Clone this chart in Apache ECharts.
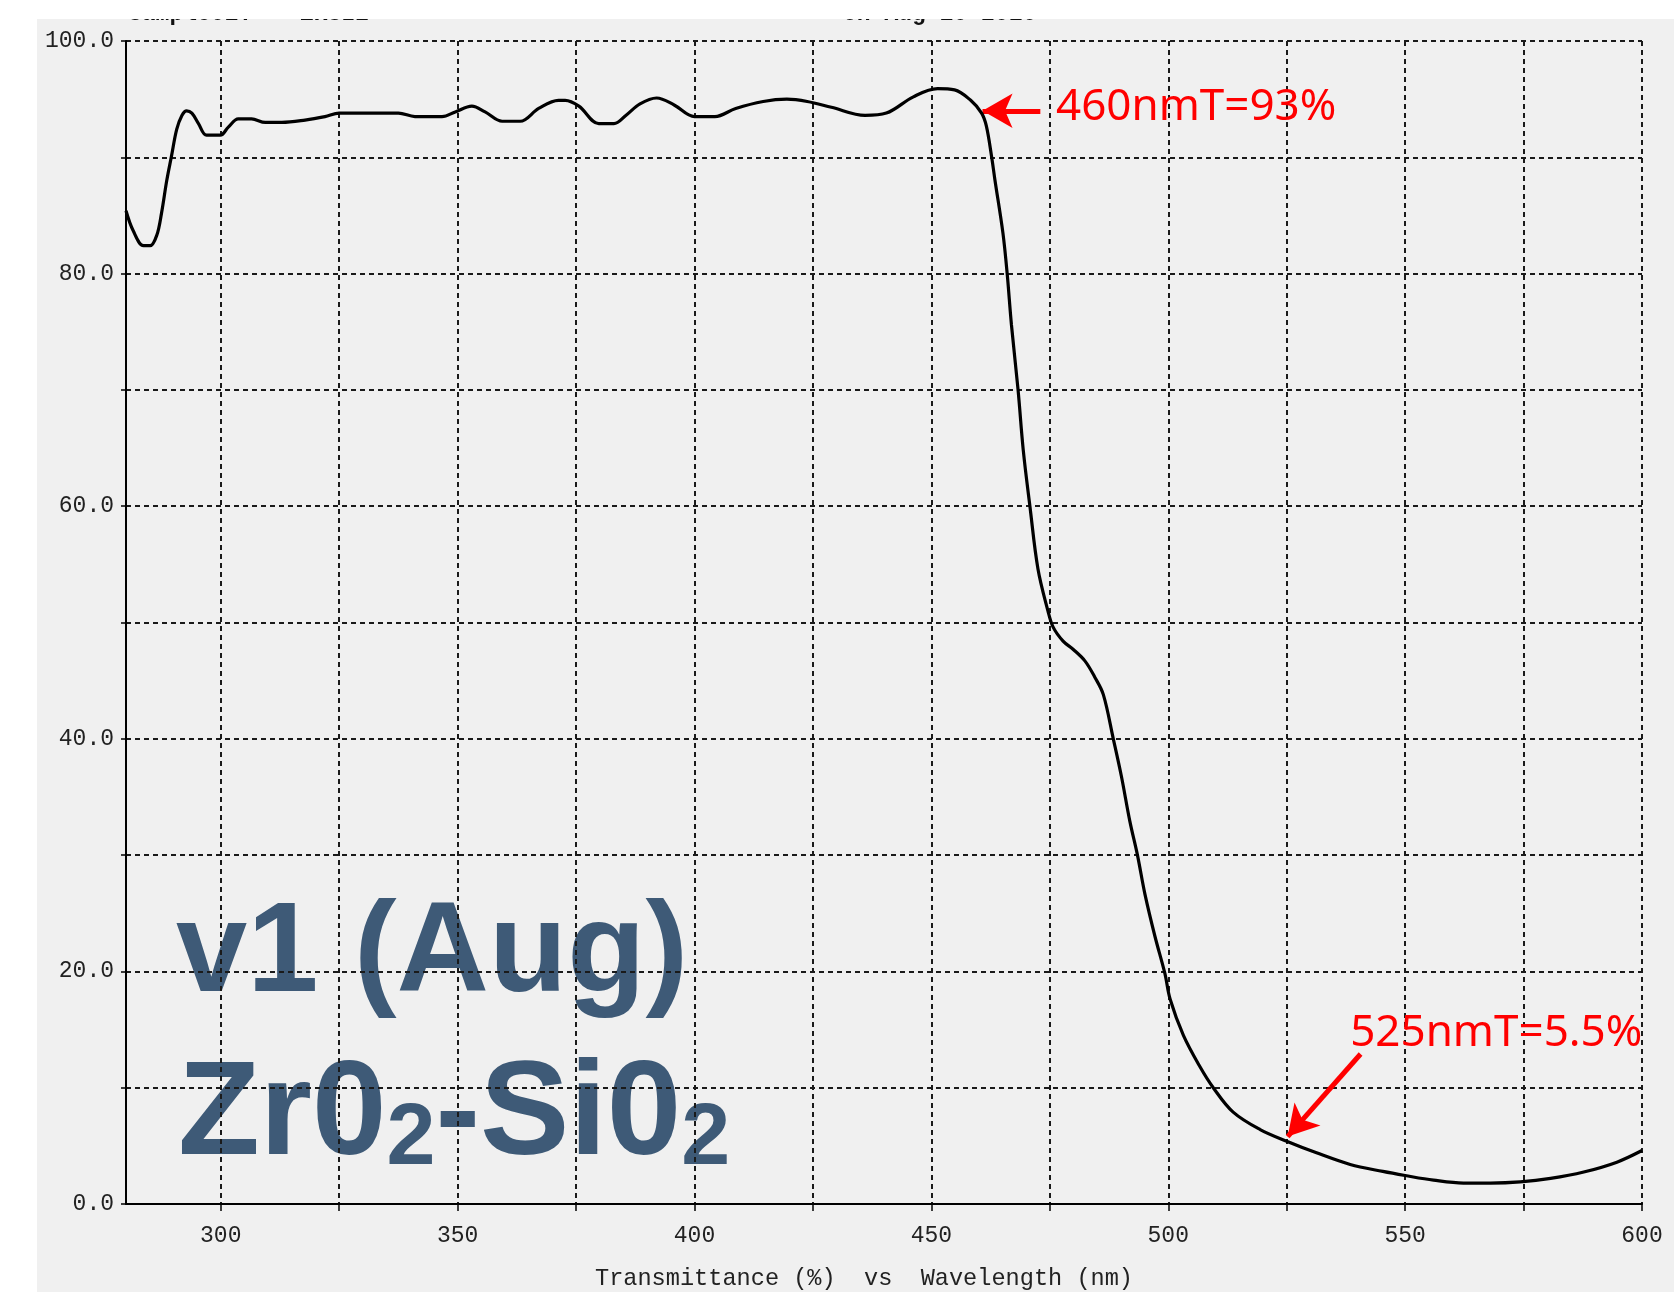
<!DOCTYPE html>
<html>
<head>
<meta charset="utf-8">
<script src="https://cdn.jsdelivr.net/npm/echarts@6/dist/echarts.min.js"></script>
<style>
  html, body { margin: 0; padding: 0; background: #ffffff; }
  #bg { position: absolute; left: 37px; top: 19px; width: 1637px; height: 1273px; background: #f0f0f0; }
  #chart { position: absolute; left: 0; top: 0; width: 1674px; height: 1292px; }
</style>
</head>
<body>
<div id="bg"></div>
<div id="chart"></div>
<script>
// wavelength (nm) / transmittance (%)
const wavelength = [280, 281.5, 283.7, 285.1, 286.5, 287.5, 288.6, 289.6, 290.7, 291.8, 292.8, 293.9, 295.3, 297, 299.9,
  301.6, 303.7, 306.5, 309.4, 312.9, 317.8, 322, 325, 337.5, 341, 346.7, 349.5, 353, 355.8, 359.4, 363.2, 367.1, 371.3,
  372.7, 375.6, 379.8, 383, 385.5, 388.5, 392, 395.7, 400, 404.3, 408.7, 414.5, 419.5, 423.8, 428.9, 436, 440.5, 446.2,
  451.3, 454.9, 458.3, 460.6, 461.6, 462.7, 463.4, 465.1, 466, 466.9, 468.3, 469.4, 470.8, 472.5, 474.6, 475.7, 477.8,
  479.9, 482.4, 484.5, 486.3, 488.4, 490.1, 491.9, 493.5, 495.1, 497.2, 499.3, 500.4, 503.2, 506.7, 509.5, 513.7, 519.4,
  525, 531.3, 538.4, 545.3, 550, 556, 562.3, 568, 574.3, 580.7, 587.7, 594.7, 600];
const transmittance = [85.4, 83.7, 82.4, 82.4, 83.3, 85.2, 88.0, 90.1, 92.4, 93.6, 94.0, 93.8, 92.9, 91.9, 91.9,
  92.6, 93.3, 93.3, 93.0, 93.0, 93.2, 93.5, 93.8, 93.8, 93.5, 93.5, 93.9, 94.4, 93.9, 93.1, 93.1, 94.2, 94.9,
  94.9, 94.4, 92.9, 92.9, 93.6, 94.6, 95.1, 94.5, 93.5, 93.5, 94.2, 94.8, 95.0, 94.8, 94.3, 93.6, 93.8, 95.2,
  95.9, 95.8, 94.9, 93.8, 92.7, 90.1, 88.1, 83.5, 80.0, 75.6, 70.0, 64.8, 60.0, 54.6, 51.0, 49.6, 48.4,
  47.7, 46.7, 45.3, 43.8, 40.0, 36.8, 32.9, 30.0, 26.6, 23.0, 19.8, 17.6, 14.5, 11.8, 10.0, 7.9, 6.4,
  5.4, 4.4, 3.4, 2.8, 2.45, 2.05, 1.8, 1.8, 1.9, 2.2, 2.75, 3.6, 4.6];

const xTicks = [300, 325, 350, 375, 400, 425, 450, 475, 500, 525, 550, 575, 600];
const xLabels = [300, 350, 400, 450, 500, 550, 600];

// annotations: text anchor, arrow tail, arrow tip (data coords)
const noteText = ['460nmT=93%', '525nmT=5.5%'];
const noteAt = [[476.3, 94.3], [538.4, 14.7]];
const arrowFrom = [[473, 94.0], [540.6, 12.9]];
const arrowTo = [[460.8, 94.0], [525.2, 5.8]];

const chart = echarts.init(document.getElementById('chart'));

const monoFont = 'Liberation Mono';
const gridLine = { type: [5, 4], color: '#1a1a1a', width: 2 };

const option = {
  animation: false,
  grid: { left: 126, right: 32, top: 41, bottom: 88, outerBoundsMode: 'none' },
  xAxis: {
    type: 'value',
    min: 280,
    max: 600,
    axisLine: { show: true, onZero: false, lineStyle: { color: '#000', width: 2 } },
    axisTick: { show: true, length: 7, customValues: xTicks, lineStyle: { color: '#000', width: 1.5 } },
    axisLabel: { customValues: xLabels, margin: 20, fontFamily: monoFont, fontSize: 23, color: '#222' },
    splitLine: { show: true, lineStyle: gridLine },
    name: 'Transmittance (%)  vs  Wavelength (nm)',
    nameLocation: 'middle',
    nameGap: 63,
    nameTextStyle: { fontFamily: monoFont, fontSize: 23.6, color: '#222', padding: [0, 40, 0, 0] }
  },
  yAxis: {
    type: 'value',
    min: 0,
    max: 100,
    interval: 10,
    axisLine: { show: true, lineStyle: { color: '#000', width: 2 } },
    axisTick: { show: true, length: 5, lineStyle: { color: '#000', width: 1.5 } },
    axisLabel: {
      margin: 12, fontFamily: monoFont, fontSize: 23, color: '#222',
      formatter: v => (v % 20 === 0 ? v.toFixed(1) : '')
    },
    splitLine: { show: true, lineStyle: gridLine }
  },
  series: [{
    type: 'line',
    data: wavelength.map((w, i) => [w, transmittance[i]]),
    showSymbol: false,
    smooth: 0.35,
    lineStyle: { color: '#000', width: 3.2 },
    z: 5,
    markLine: {
      silent: true,
      symbol: ['none', 'arrow'],
      symbolSize: [26, 30],
      label: { show: false },
      lineStyle: { color: '#ff0000', width: 5, type: 'solid' },
      data: arrowFrom.map((p, i) => [{ coord: p }, { coord: arrowTo[i] }])
    },
    markPoint: {
      silent: true,
      symbol: 'circle',
      symbolSize: 0,
      data: noteAt.map((p, i) => ({
        coord: p,
        name: noteText[i],
        label: {
          show: true, position: 'right', distance: 0, formatter: '{b}',
          color: '#ff0000', fontFamily: 'Noto Sans', fontSize: 44
        }
      }))
    }
  }],
  graphic: [
    // cut-off header of the instrument printout
    { type: 'text', x: 128, y: 26, style: { text: 'Sample01:', font: 'bold 23px "Liberation Mono"', fill: '#111', verticalAlign: 'bottom' } },
    { type: 'text', x: 300, y: 26, style: { text: 'ZRSI2', font: 'bold 23px "Liberation Mono"', fill: '#111', verticalAlign: 'bottom' } },
    { type: 'text', x: 843, y: 26, style: { text: 'on Aug 10 2016', font: 'bold 23px "Liberation Mono"', fill: '#111', verticalAlign: 'bottom' } },
    { type: 'rect', shape: { x: 0, y: 0, width: 1674, height: 19 }, style: { fill: '#ffffff' } },
    {
      type: 'text', x: 176, y: 955,
      style: {
        text: '{m|v1 (Aug)}',
        verticalAlign: 'middle',
        rich: { m: { font: 'bold 128px "Liberation Sans"', fill: '#3e5a77', lineHeight: 130, verticalAlign: 'bottom' } }
      }
    },
    {
      type: 'text', x: 178, y: 1117,
      style: {
        text: '{m|Zr0}{s|2}{m|-Si0}{s|2}',
        verticalAlign: 'middle',
        rich: {
          m: { font: 'bold 134px "Liberation Sans"', fill: '#3e5a77', lineHeight: 134, verticalAlign: 'bottom' },
          s: { font: 'bold 88px "Liberation Sans"', fill: '#3e5a77', lineHeight: 88, verticalAlign: 'bottom' }
        }
      }
    }
  ]
};

chart.setOption(option);
</script>
</body>
</html>
